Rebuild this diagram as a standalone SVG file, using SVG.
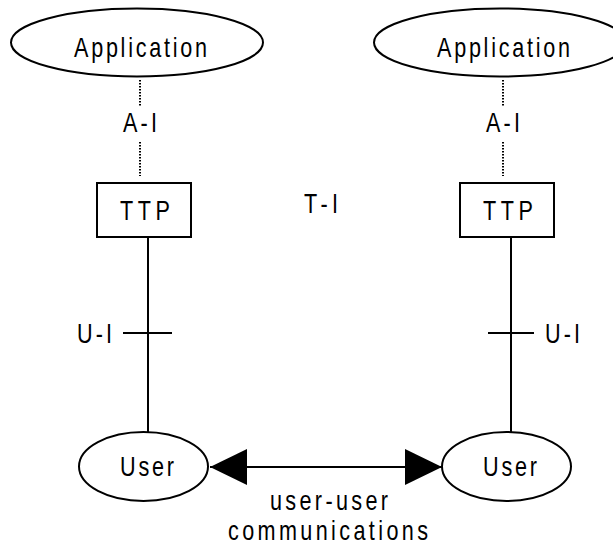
<svg xmlns="http://www.w3.org/2000/svg" width="613" height="544" viewBox="0 0 613 544">
  <style>
    .shape { fill: #fff; stroke: #000; stroke-width: 2; }
    .line { stroke: #000; stroke-width: 2; fill: none; }
    .dots { stroke: #000; stroke-width: 2; stroke-dasharray: 1.5 1.5; fill: none; }
    /* narrow, spaced lettering: glyphs squeezed to 80% width, gaps set by textLength */
    .lbl { font-family: "Liberation Sans", Arial, sans-serif; font-size: 27px; fill: #000; }
  </style>
  <defs>
    <marker id="head" viewBox="0 0 37 36" refX="37" refY="18" markerWidth="37" markerHeight="36" markerUnits="userSpaceOnUse" orient="auto-start-reverse">
      <path d="M0,0 L37,18 L0,36 Z" fill="#000"/>
    </marker>
  </defs>
  <rect width="613" height="544" fill="#fff"/>

  <g id="connectors">
    <!-- application to TTP (dotted, split by the A-I label) -->
    <line class="dots" x1="140" y1="80" x2="140" y2="107"/>
    <line class="dots" x1="140" y1="142" x2="140" y2="176"/>
    <line class="dots" x1="503" y1="80" x2="503" y2="107"/>
    <line class="dots" x1="503" y1="142" x2="503" y2="176"/>
    <!-- TTP to user -->
    <line class="line" x1="148" y1="237" x2="148" y2="432"/>
    <line class="line" x1="511" y1="237" x2="511" y2="432"/>
    <!-- U-I ticks -->
    <line class="line" x1="123" y1="333" x2="172" y2="333"/>
    <line class="line" x1="488" y1="333" x2="534" y2="333"/>
    <!-- user-user communication -->
    <line class="line" x1="210" y1="467" x2="442" y2="467" marker-start="url(#head)" marker-end="url(#head)"/>
  </g>

  <g id="app-left">
    <ellipse class="shape" cx="137" cy="42.5" rx="126" ry="34"/>
    <text class="lbl" transform="scale(0.8 1)" x="92.5" y="57" textLength="166.25" lengthAdjust="spacing">Application</text>
  </g>
  <g id="app-right">
    <ellipse class="shape" cx="500" cy="42.5" rx="126" ry="34"/>
    <text class="lbl" transform="scale(0.8 1)" x="546.25" y="57" textLength="166.25" lengthAdjust="spacing">Application</text>
  </g>

  <g id="ttp-left">
    <rect class="shape" x="97" y="183" width="94" height="54"/>
    <text class="lbl" transform="scale(0.8 1)" x="150" y="220" textLength="62.5" lengthAdjust="spacing">TTP</text>
  </g>
  <g id="ttp-right">
    <rect class="shape" x="460" y="183" width="94" height="54"/>
    <text class="lbl" transform="scale(0.8 1)" x="603.75" y="220" textLength="62.5" lengthAdjust="spacing">TTP</text>
  </g>

  <g id="user-left">
    <ellipse class="shape" cx="143.5" cy="466.5" rx="64.5" ry="34.5"/>
    <text class="lbl" transform="scale(0.8 1)" x="150" y="476" textLength="67.5" lengthAdjust="spacing">User</text>
  </g>
  <g id="user-right">
    <ellipse class="shape" cx="506.5" cy="466.5" rx="64.5" ry="34.5"/>
    <text class="lbl" transform="scale(0.8 1)" x="603.75" y="476" textLength="67.5" lengthAdjust="spacing">User</text>
  </g>

  <g id="labels">
    <text class="lbl" transform="scale(0.8 1)" x="153.75" y="132" textLength="42.5" lengthAdjust="spacing">A-I</text>
    <text class="lbl" transform="scale(0.8 1)" x="607.5" y="132" textLength="42.5" lengthAdjust="spacing">A-I</text>
    <text class="lbl" transform="scale(0.8 1)" x="380" y="213" textLength="42.5" lengthAdjust="spacing">T-I</text>
    <text class="lbl" transform="scale(0.8 1)" x="96.25" y="343" textLength="43.75" lengthAdjust="spacing">U-I</text>
    <text class="lbl" transform="scale(0.8 1)" x="681.25" y="343" textLength="43.75" lengthAdjust="spacing">U-I</text>
    <text class="lbl" transform="scale(0.8 1)" x="337.5" y="510" textLength="147.5" lengthAdjust="spacing">user-user</text>
    <text class="lbl" transform="scale(0.8 1)" x="285" y="540" textLength="250" lengthAdjust="spacing">communications</text>
  </g>
</svg>
